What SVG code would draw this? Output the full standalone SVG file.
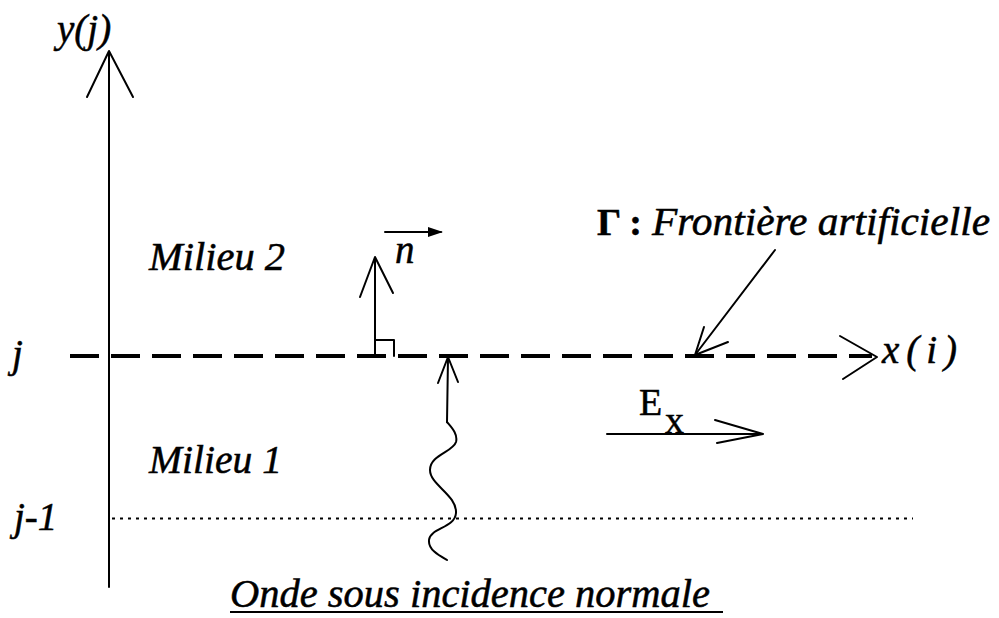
<svg xmlns="http://www.w3.org/2000/svg" width="999" height="618" viewBox="0 0 999 618">
<style>
.ln{fill:none;stroke:#000;stroke-width:2;stroke-linecap:round;stroke-linejoin:round}
.it{font-family:'Liberation Serif','Times New Roman',serif;font-style:italic;font-size:39px;fill:#000;stroke:#000;stroke-width:0.5}
.rm{font-family:'Liberation Serif','Times New Roman',serif;font-size:38px;fill:#000;stroke:#000;stroke-width:0.5}
</style>
<rect width="999" height="618" fill="#fff"/>
<g id="connectors">
<g id="y-axis">
<line class="ln" x1="109" y1="52" x2="109" y2="587"/>
<polyline class="ln" points="87,97 109,51 133,97"/>
</g>
<g id="boundary">
<line x1="70" y1="356" x2="872" y2="356" stroke="#000" stroke-width="4" stroke-dasharray="29 12"/>
<polyline class="ln" points="840,336 877,357 843,379"/>
</g>
<line id="dotted" x1="112" y1="518.5" x2="913" y2="518.5" stroke="#000" stroke-width="2" stroke-dasharray="3 5"/>
<g id="normal">
<line class="ln" x1="375" y1="356" x2="375" y2="258"/>
<polyline class="ln" points="360,297 375,257 393,293"/>
<polyline class="ln" points="375,340 394,340 394,356"/>
</g>
<g id="n-vector">
<line class="ln" x1="385" y1="232" x2="441" y2="232"/>
<path d="M428,227 L443,232 L428,237 Z" fill="#000"/>
</g>
<g id="gamma-pointer">
<line class="ln" x1="775" y1="250" x2="695" y2="355"/>
<polyline class="ln" points="704,327 695,355 728,342"/>
</g>
<g id="wave">
<line class="ln" x1="448" y1="358" x2="447" y2="422"/>
<polyline class="ln" points="438,383 448,357 458,382"/>
<path class="ln" d="M447,422 C452,428 458,434 456,442 C453,452 430,455 430,470 C430,485 457,495 456,513 C455,528 430,528 429,540 C428,550 440,556 447,560"/>
</g>
<g id="ex-arrow">
<line class="ln" x1="607" y1="434" x2="762" y2="434"/>
<polyline class="ln" points="715,420 763,434 717,443"/>
</g>
</g>
<g id="labels">
<text id="y-label" class="it" x="57" y="42">y(j)</text>
<text id="x-label" class="it" x="882" y="363" font-size="42" stroke-width="0.3" textLength="75" lengthAdjust="spacing">x(i)</text>
<text id="j-label" class="it" x="12" y="367">j</text>
<text id="j1-label" class="it" x="14" y="530">j-1</text>
<text id="milieu2" class="it" x="149" y="270" textLength="136" lengthAdjust="spacingAndGlyphs">Milieu 2</text>
<text id="milieu1" class="it" x="149" y="473" textLength="133" lengthAdjust="spacingAndGlyphs">Milieu 1</text>
<text id="n-label" class="it" x="395" y="263">n</text>
<g id="gamma-label">
<text class="rm" x="597" y="235" font-weight="bold" font-size="40">Γ :</text>
<text class="it" x="652" y="235" font-size="40" textLength="338" lengthAdjust="spacingAndGlyphs">Frontière artificielle</text>
</g>
<g id="ex-label">
<text class="rm" x="639" y="415">E</text>
<text class="rm" x="665" y="433" font-size="28">x</text>
</g>
<g id="caption">
<text class="it" x="230" y="607" font-size="40" textLength="480" lengthAdjust="spacingAndGlyphs">Onde sous incidence normale</text>
<line x1="230" y1="612" x2="723" y2="612" stroke="#000" stroke-width="2"/>
</g>
</g>
</svg>
